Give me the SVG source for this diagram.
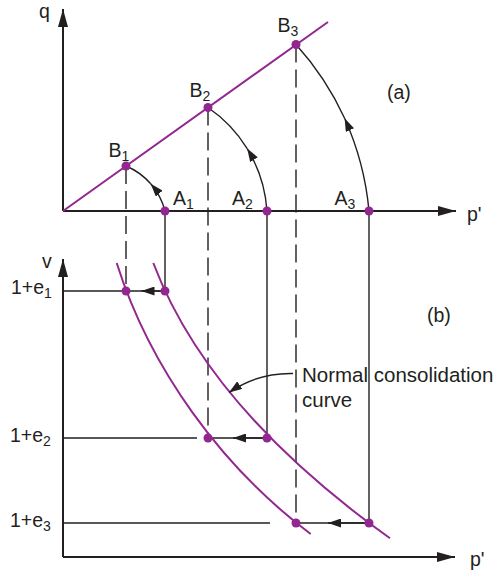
<svg xmlns="http://www.w3.org/2000/svg" width="498" height="573" viewBox="0 0 498 573">
<style>
text{font-family:"Liberation Sans",Arial,Helvetica,sans-serif;font-size:19.5px;fill:#231F20}
.sub{font-size:14px}
.note{font-size:20.5px}
.ax{stroke:#231F20;stroke-width:2;fill:none}
.ln{stroke:#231F20;stroke-width:1.4;fill:none}
.dash{stroke:#231F20;stroke-width:1.4;fill:none;stroke-dasharray:18 7}
.pu{stroke:#92278F;stroke-width:2;fill:none}
.dot{fill:#92278F}
</style>
<defs>
<marker id="big" markerUnits="userSpaceOnUse" viewBox="0 0 18 10" refX="18" refY="5" markerWidth="18" markerHeight="10" orient="auto"><path d="M0,0 L18,5 L0,10 z" fill="#231F20"/></marker>
<marker id="sm" markerUnits="userSpaceOnUse" viewBox="0 0 13 9" refX="13" refY="4.5" markerWidth="13" markerHeight="9" orient="auto"><path d="M0,0 L13,4.5 L0,9 z" fill="#231F20"/></marker>
</defs>

<g id="connectors">
  <path class="ax" d="M63,211 L63,9" marker-end="url(#big)"/>
  <path class="ax" d="M63,211 L456,211" marker-end="url(#big)"/>
  <path class="ax" d="M63,557 L63,259" marker-end="url(#big)"/>
  <path class="ax" d="M63,557 L455,557" marker-end="url(#big)"/>
  <path class="pu" d="M63,211 L328,22"/>
  <path class="ln" d="M165,211 A66.7,66.7 0 0 0 150.7,183.8" marker-end="url(#sm)"/>
  <path class="ln" d="M150.7,183.8 A66.7,66.7 0 0 0 126,166"/>
  <path class="ln" d="M267,211 A137,137 0 0 0 247.2,148.6" marker-end="url(#sm)"/>
  <path class="ln" d="M247.2,148.6 A137,137 0 0 0 208,107.5"/>
  <path class="ln" d="M369,211 A290,290 0 0 0 344.6,118.3" marker-end="url(#sm)"/>
  <path class="ln" d="M344.6,118.3 A290,290 0 0 0 296,44.5"/>
  <path class="dash" d="M126,166 L126,291"/>
  <path class="dash" d="M208,107.5 L208,438"/>
  <path class="dash" d="M296,44.5 L296,523"/>
  <path class="ln" d="M165,211 L165,291"/>
  <path class="ln" d="M267,211 L267,438"/>
  <path class="ln" d="M369,211 L369,523"/>
  <path class="ln" d="M63,291 L165,291"/>
  <path class="ln" d="M165,291 L141.5,291" marker-end="url(#sm)"/>
  <path class="ln" d="M63,438 L197,438"/>
  <path class="ln" d="M208,438 L267,438"/>
  <path class="ln" d="M267,438 L233,438" marker-end="url(#sm)"/>
  <path class="ln" d="M63,523 L270,523"/>
  <path class="ln" d="M296,523 L369,523"/>
  <path class="ln" d="M369,523 L328,523" marker-end="url(#sm)"/>
  <path class="pu" d="M116.7,263 C150,368.5 221.9,467.4 310.7,534"/>
  <path class="pu" d="M153.3,263 C196,375.5 291.5,468 390,538.3"/>
  <path class="ln" d="M293,373.5 C270,373 250,378 229,392.5" marker-end="url(#sm)"/>
</g>

<g id="axis-labels">
  <text x="39" y="18">q</text>
  <text x="467" y="221">p'</text>
  <text x="42" y="268">v</text>
  <text x="470" y="566">p'</text>
  <text x="387" y="99">(a)</text>
  <text x="427" y="322">(b)</text>
</g>

<g id="B1"><circle class="dot" cx="126" cy="166" r="4.5"/><text x="108.5" y="157">B<tspan class="sub" dy="4">1</tspan></text></g>
<g id="B2"><circle class="dot" cx="208" cy="107.5" r="4.5"/><text x="189.5" y="97">B<tspan class="sub" dy="4">2</tspan></text></g>
<g id="B3"><circle class="dot" cx="296" cy="44.5" r="4.5"/><text x="277.5" y="32">B<tspan class="sub" dy="4">3</tspan></text></g>
<g id="A1"><circle class="dot" cx="165" cy="211" r="4.5"/><text x="173" y="205">A<tspan class="sub" dy="4">1</tspan></text></g>
<g id="A2"><circle class="dot" cx="267" cy="211" r="4.5"/><text x="232" y="205">A<tspan class="sub" dy="4">2</tspan></text></g>
<g id="A3"><circle class="dot" cx="369" cy="211" r="4.5"/><text x="334.5" y="205">A<tspan class="sub" dy="4">3</tspan></text></g>

<g id="level-e1"><text x="11" y="293.5">1+e<tspan class="sub" dy="4">1</tspan></text>
  <circle class="dot" cx="126" cy="291" r="4.5"/><circle class="dot" cx="165" cy="291" r="4.5"/></g>
<g id="level-e2"><text x="10" y="442">1+e<tspan class="sub" dy="4">2</tspan></text>
  <circle class="dot" cx="208" cy="438" r="4.5"/><circle class="dot" cx="267" cy="438" r="4.5"/></g>
<g id="level-e3"><text x="10" y="527">1+e<tspan class="sub" dy="4">3</tspan></text>
  <circle class="dot" cx="296" cy="523" r="4.5"/><circle class="dot" cx="369" cy="523" r="4.5"/></g>

<g id="ncl-label">
  <text class="note" x="302" y="381.5">Normal consolidation</text>
  <text class="note" x="302" y="406.5">curve</text>
</g>
</svg>
